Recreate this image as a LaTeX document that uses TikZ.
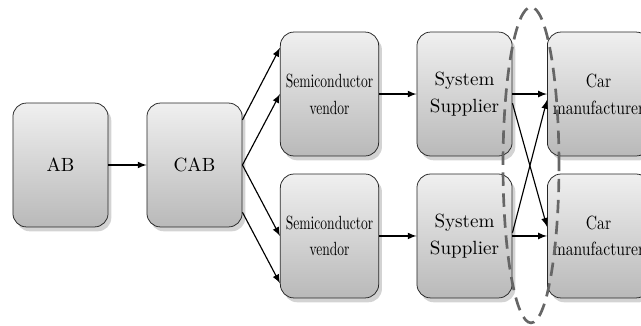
\documentclass[tikz,border=0pt]{standalone}
\usepackage{graphicx}
\usetikzlibrary{shadows,shapes.geometric}
\newcommand{\narrowtext}[2][0.71]{\scalebox{#1}[1]{#2}}
\begin{document}
\begin{tikzpicture}
[
 semithick,
 >={latex},
 align=center,
 inner sep=1mm,
 box/.style={draw=black!85,thin,rectangle,rounded corners=2.5mm,minimum width=1.75cm,minimum height=2.28cm,
   top color=gray!12,bottom color=gray!55,drop shadow={opacity=0.35,shadow xshift=0.6mm,shadow yshift=-0.8mm}},
 ring/.style={draw=black!60,line width=1.4pt,dash pattern=on 7pt off 4pt}
]
\useasboundingbox (0,0) rectangle (11.794,5.98);
\node (ab) [box] at (1.113,2.944) {AB};
\node (cab) [box] at (3.579,2.944) {CAB};
\node (semi-a) [box] at (6.063,4.250) {\narrowtext{Semiconductor}\\[2pt]\narrowtext{vendor}};
\node (semi-b) [box] at (6.063,1.638) {\narrowtext{Semiconductor}\\[2pt]\narrowtext{vendor}};
\node (sys-a) [box] at (8.547,4.250) {System\\[2pt]Supplier};
\node (sys-b) [box] at (8.547,1.638) {System\\[2pt]Supplier};
\node (car-a) [box] at (11.013,4.250) {\narrowtext[0.82]{Car}\\[2pt]\narrowtext[0.82]{manufacturer}};
\node (car-b) [box] at (11.013,1.638) {\narrowtext[0.82]{Car}\\[2pt]\narrowtext[0.82]{manufacturer}};
\draw[->] (ab) -- (cab);
\draw[->] (cab.east) -- (semi-a.west);
\draw[->] (cab.east) -- (semi-b.west);
\draw[->] ([yshift=0.83cm]cab.east) -- ([yshift=0.85cm]semi-a.west);
\draw[->] ([yshift=-0.87cm]cab.east) -- ([yshift=-0.87cm]semi-b.west);
\draw[->] (semi-a) -- (sys-a);
\draw[->] (semi-b) -- (sys-b);
\draw[->] (sys-a) -- (car-a);
\draw[->] (sys-b) -- (car-b);
\draw[->] ([yshift=-0.17cm]sys-a.east) -- ([yshift=0.17cm]car-b.west);
\draw[->] ([yshift=0.06cm]sys-b.east) -- ([yshift=-0.11cm]car-a.west);
\node (market) [ring,ellipse,minimum width=1.03cm,minimum height=5.81cm,inner sep=0pt] at (9.770,2.944) {};
\end{tikzpicture}
\end{document}
